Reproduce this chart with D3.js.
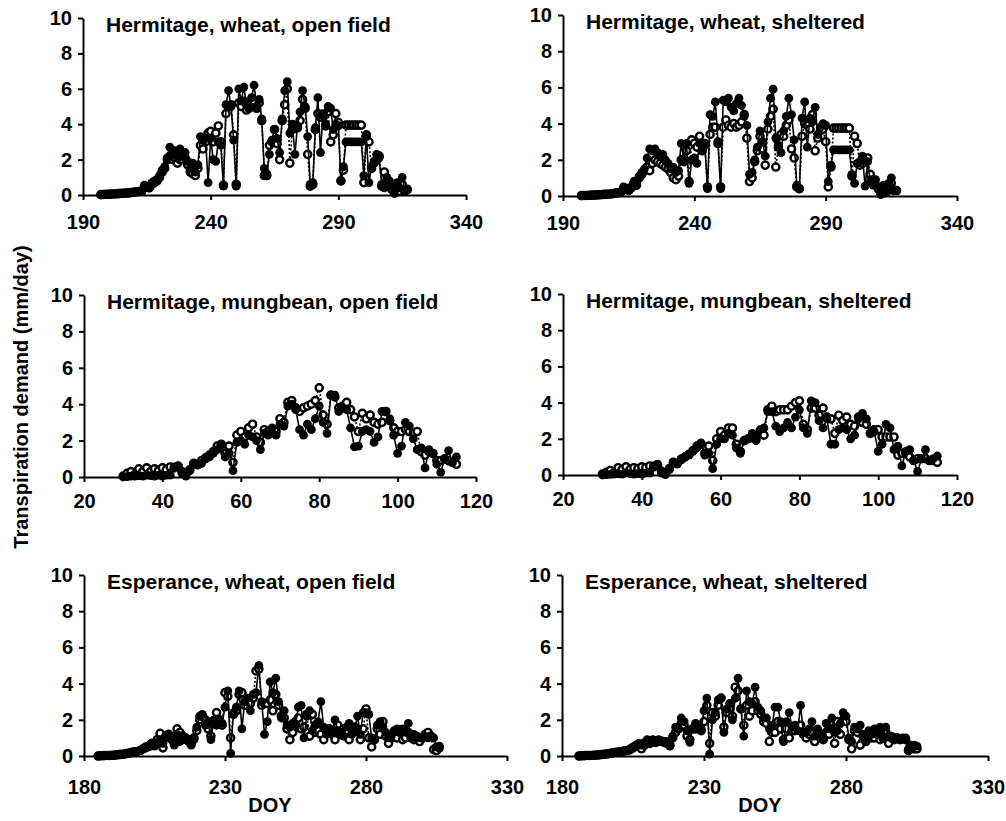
<!DOCTYPE html>
<html>
<head>
<meta charset="utf-8">
<script src="https://cdn.jsdelivr.net/npm/d3@7"></script>
<style>
  body { margin: 0; background: #fff; }
  text { font-family: "Liberation Sans", Arial, sans-serif; font-weight: bold; fill: #000; }
</style>
</head>
<body>
<svg id="chart" width="1006" height="821"></svg>
<script>

// tick labels
var yTicks = [0, 2, 4, 6, 8, 10];
var herWheatTicks = [190, 240, 290, 340];
var mungTicks = [20, 40, 60, 80, 100, 120];
var espWheatTicks = [180, 230, 280, 330];

var panelTitles = [
  "Hermitage, wheat, open field",
  "Hermitage, wheat, sheltered",
  "Hermitage, mungbean, open field",
  "Hermitage, mungbean, sheltered",
  "Esperance, wheat, open field",
  "Esperance, wheat, sheltered"
];

// first DOY of each daily record
var herWheatStart = 197;
var mungStart = 30;
var espOpenStart = 185;
var espShelStart = 186;

// Hermitage wheat, open field (solid = filled dots, dotted = open dots)
var hwOpenFilled = [0.02,0.03,0.03,0.05,0.05,0.06,0.07,0.08,0.08,0.1,
  0.1,0.12,0.15,0.15,0.18,0.2,0.22,
  0.55,0.5,0.45,0.7,0.8,0.9,1.1,1.4,1.6,2.1,
  2.7,2.3,2.5,2.1,2.6,2.2,2.4,1.9,1.5,1.8,
  1.3,1.7,3.3,3.1,3.2,0.7,3.2,2.0,1.9,3.0,
  2.8,0.5,5.1,5.9,5.0,3.1,0.5,6.0,5.3,6.1,
  5.1,4.9,5.5,6.2,5.0,5.4,4.3,1.5,1.2,2.3,
  3.1,3.7,3.2,2.4,4.3,5.9,6.4,3.5,4.0,2.3,
  3.9,4.7,5.9,5.0,3.3,0.6,0.7,3.8,5.5,2.4,
  4.6,4.0,5.0,4.9,3.7,4.0,3.9,0.8,1.6,3.0,
  3.0,3.0,3.0,3.0,3.0,3.0,1.1,3.3,0.7,1.6,
  1.9,2.3,2.1,0.6,0.4,1.0,0.8,0.5,0.2,0.7,
  0.4,1.0,0.3,0.35];
var hwOpenOpen = [0.02,0.03,0.04,0.04,0.05,0.06,0.06,0.08,0.09,0.1,
  0.11,0.12,0.14,0.16,0.18,0.2,0.22,
  0.4,0.45,0.4,0.6,0.7,0.8,1.0,1.3,1.5,2.0,
  2.2,2.0,2.1,1.8,2.0,2.0,2.1,1.7,1.3,1.2,
  1.1,1.5,2.8,2.6,3.0,3.5,3.6,3.0,3.5,3.9,
  3.0,0.55,4.6,5.0,5.1,3.4,0.6,5.2,5.0,5.3,
  4.8,4.9,5.1,5.3,4.9,5.2,4.2,1.1,1.1,2.8,
  3.0,3.7,2.9,2.0,4.2,5.1,6.0,1.8,3.7,3.9,
  3.8,4.2,5.4,4.9,2.3,0.5,0.6,3.7,4.6,4.4,
  4.5,3.9,4.7,3.0,3.4,4.6,4.1,0.8,1.4,3.95,
  3.95,3.95,3.95,3.95,3.95,3.95,0.7,3.4,3.0,1.5,
  1.8,2.0,2.2,0.5,1.3,0.7,0.5,0.3,0.1,0.5,
  0.2,0.6,0.2,0.3];

// Hermitage wheat, sheltered
var hwShelFilled = [0.02,0.03,0.03,0.04,0.05,0.06,0.06,0.07,0.08,0.1,
  0.1,0.12,0.15,0.17,0.2,0.2,
  0.5,0.45,0.35,0.5,0.8,0.7,1.1,1.3,1.5,2.1,
  2.6,2.5,2.6,2.4,2.2,2.3,2.0,1.8,1.5,1.6,
  1.3,1.4,2.9,2.0,2.9,0.7,2.0,2.1,1.8,2.9,
  2.6,2.8,0.4,4.5,4.4,5.2,3.0,0.4,5.3,5.2,
  5.4,4.9,4.7,5.1,5.4,5.0,4.4,3.9,1.2,1.3,
  2.0,2.7,3.6,3.0,2.2,4.1,5.4,5.9,3.2,2.8,
  2.4,3.6,4.4,5.4,4.5,3.1,0.6,0.4,4.3,5.2,
  2.7,4.3,4.1,4.9,3.4,3.8,4.0,3.9,0.8,1.7,
  2.55,2.55,2.55,2.55,2.55,2.55,2.55,1.2,0.7,1.8,
  1.9,2.2,0.55,1.9,0.8,0.6,0.9,0.5,0.1,0.6,
  0.2,0.7,1.0,0.3,0.3];
var hwShelOpen = [0.02,0.03,0.03,0.04,0.05,0.05,0.06,0.07,0.08,0.09,
  0.1,0.11,0.13,0.15,0.18,0.2,
  0.4,0.4,0.3,0.45,0.7,0.6,1.0,1.2,1.4,1.6,
  1.4,1.8,2.0,1.9,1.8,1.7,1.6,1.5,1.3,1.0,
  0.9,1.1,2.0,1.9,2.5,0.8,3.1,2.9,2.7,3.3,
  2.5,2.9,0.5,3.4,3.8,3.8,2.9,0.5,3.8,4.2,
  3.9,3.8,4.0,3.8,3.9,4.1,4.5,3.2,0.8,1.0,
  1.9,2.5,3.3,2.6,1.7,3.7,4.4,4.8,1.6,2.7,
  3.4,3.3,3.9,4.2,2.6,2.1,0.5,0.4,3.3,4.0,
  3.9,3.7,4.5,2.5,3.2,3.6,3.7,3.0,0.5,1.6,
  3.75,3.75,3.75,3.75,3.75,3.75,3.75,1.1,3.3,2.9,
  1.7,1.8,2.0,2.1,1.2,0.9,0.6,0.4,0.1,0.5,
  0.2,0.6,0.7,0.3,0.3];

// Hermitage mungbean, open field
var hmOpenFilled = [0.0,0.02,0.05,0.05,0.08,0.05,0.1,0.08,0.05,0.1,
  0.05,0.1,0.1,0.55,0.6,0.2,0.05,0.35,0.7,0.65,
  0.75,1.0,1.1,1.3,1.5,1.7,1.1,1.3,0.35,1.9,
  2.0,1.8,2.3,2.2,2.0,1.5,2.4,2.3,2.7,2.3,
  2.9,2.8,3.9,4.0,3.7,2.6,2.3,2.9,2.6,3.2,
  3.9,3.0,2.4,4.5,4.5,3.6,3.8,3.7,2.7,1.65,
  1.7,2.5,2.6,2.5,1.9,2.2,3.6,3.6,3.2,2.3,
  1.3,1.7,3.0,2.8,2.1,1.5,1.6,0.5,1.5,1.3,
  0.7,0.25,1.0,1.45,0.8,1.1];
var hmOpenOpen = [0.05,0.2,0.3,0.15,0.45,0.3,0.5,0.3,0.45,0.35,
  0.5,0.4,0.55,0.5,0.6,0.3,0.15,0.4,0.75,0.7,
  0.9,1.05,1.2,1.4,1.7,1.8,1.3,1.7,0.8,2.3,
  2.5,2.2,2.7,2.9,2.2,1.9,2.6,2.5,2.6,2.5,
  3.2,3.0,4.1,4.2,3.8,3.6,3.8,3.9,4.0,4.2,
  4.9,3.4,2.9,4.5,4.4,3.8,3.9,4.1,3.7,3.3,
  2.5,3.5,3.2,3.4,3.0,2.9,3.0,3.6,3.1,2.7,
  2.5,2.5,2.6,2.5,2.4,2.5,1.4,1.2,1.4,1.3,
  0.9,0.9,1.0,0.9,0.8,0.7];

// Hermitage mungbean, sheltered
var hmShelFilled = [0.0,0.02,0.04,0.05,0.07,0.05,0.1,0.07,0.05,0.08,
  0.05,0.1,0.1,0.5,0.6,0.1,0.02,0.3,0.7,0.6,
  0.9,1.0,1.1,1.3,1.5,1.7,1.1,1.2,0.35,1.7,
  2.0,2.0,2.3,2.2,1.5,1.2,1.9,2.0,2.3,1.9,
  2.5,2.6,3.5,3.5,2.7,2.4,2.6,2.9,2.6,3.2,
  3.6,2.6,2.3,4.1,4.0,3.0,2.6,3.1,1.7,1.7,
  2.5,2.6,2.5,2.0,2.2,3.1,3.4,3.1,2.3,2.4,
  1.3,1.7,2.8,2.6,1.4,1.6,0.5,1.3,1.4,0.8,
  0.2,0.9,1.4,0.8,0.9,1.05];
var hmShelOpen = [0.05,0.15,0.25,0.15,0.4,0.3,0.45,0.3,0.4,0.35,
  0.45,0.4,0.5,0.45,0.55,0.2,0.1,0.35,0.7,0.65,
  0.85,1.0,1.15,1.35,1.6,1.75,1.2,1.6,0.8,2.0,
  2.4,2.2,2.6,2.6,1.7,1.3,1.9,2.0,2.1,2.0,
  2.4,2.2,3.6,3.8,3.5,3.6,3.6,3.6,3.8,4.0,
  4.1,2.8,2.5,3.7,3.7,3.3,3.7,3.2,3.1,2.3,
  3.3,3.0,3.2,2.8,2.7,3.2,2.9,2.8,2.3,2.5,
  2.5,2.1,2.1,2.1,2.1,1.1,1.2,1.2,1.0,0.8,
  0.9,0.9,0.9,0.8,0.8,0.7];

// Esperance wheat, open field
var ewOpenFilled = [0.0,0.01,0.02,0.02,0.03,0.04,0.05,0.06,0.08,0.1,
  0.12,0.15,0.2,0.22,0.25,0.3,0.4,0.45,0.5,0.6,
  0.55,0.75,0.9,0.7,1.0,1.1,0.9,0.6,1.2,0.8,
  1.0,0.9,0.8,0.6,0.9,1.6,2.2,2.3,1.7,1.9,
  0.9,2.0,1.7,1.9,1.8,2.7,3.6,0.15,2.4,2.7,
  3.6,1.5,3.0,3.2,2.5,3.4,3.5,5.0,3.0,1.2,
  1.9,4.1,3.5,4.3,3.0,2.1,2.5,1.7,1.6,1.8,
  1.7,2.7,2.8,1.0,2.2,2.5,1.4,1.7,1.9,3.0,
  1.6,1.2,1.5,1.3,2.0,1.4,1.3,1.1,1.6,1.8,
  1.2,1.5,2.2,1.2,2.4,2.4,2.3,1.0,0.9,1.7,
  1.9,1.6,1.3,1.0,1.1,1.4,1.5,1.3,1.5,1.3,
  1.8,1.0,1.2,1.1,1.0,1.0,1.1,1.0,1.1,1.0,
  0.5,0.55];
var ewOpenOpen = [0.0,0.01,0.02,0.03,0.03,0.04,0.05,0.07,0.09,0.1,
  0.13,0.16,0.2,0.23,0.25,0.3,0.4,0.5,0.55,0.7,
  0.6,0.9,1.25,0.45,1.1,1.2,1.0,0.7,1.5,1.3,
  1.1,1.0,0.9,0.7,1.0,1.4,2.0,2.2,2.0,1.5,
  1.1,1.9,2.4,2.0,1.7,3.5,3.3,1.0,2.3,2.5,
  3.4,3.5,2.8,3.0,2.9,3.2,4.7,4.8,2.8,2.9,
  2.9,3.1,2.5,3.4,2.8,2.2,2.1,1.5,0.9,1.3,
  1.9,2.1,1.5,1.6,2.3,1.1,2.3,1.3,1.4,1.2,
  0.9,1.3,1.5,1.2,0.9,1.7,1.2,1.5,1.4,0.9,
  1.5,1.6,1.4,0.9,1.5,2.6,1.0,0.5,0.9,1.5,
  1.2,1.9,1.1,0.7,1.0,1.1,1.0,1.3,0.9,1.0,
  1.3,1.0,0.9,1.0,0.8,1.0,1.2,1.3,1.1,0.35,
  0.3,0.45];

// Esperance wheat, sheltered
var ewShelFilled = [0.0,0.01,0.02,0.02,0.03,0.04,0.05,0.06,0.08,0.1,
  0.12,0.15,0.18,0.2,0.22,0.25,0.3,0.3,0.4,0.5,
  0.6,0.7,0.6,0.75,0.9,0.8,0.9,0.8,0.9,0.85,
  0.8,0.8,0.55,1.1,1.6,1.5,2.1,1.9,1.4,0.75,
  1.5,1.8,1.6,1.5,2.5,3.2,0.1,2.0,2.4,3.1,
  3.2,1.3,2.6,2.9,2.0,3.2,4.3,2.6,1.1,3.6,
  3.0,2.9,3.8,2.7,2.5,2.1,2.1,1.5,1.7,2.7,
  2.7,1.9,0.8,1.9,2.4,1.6,1.7,1.4,2.8,1.3,
  1.3,1.5,1.9,1.1,1.5,1.2,1.0,1.8,1.5,2.1,
  1.3,1.4,1.8,2.4,2.2,1.0,0.8,1.6,1.5,1.7,
  1.2,0.9,1.4,1.2,1.5,1.3,1.6,1.1,1.6,1.1,
  1.1,1.0,1.0,0.95,1.0,1.0,0.4,0.6,0.6,0.55];
var ewShelOpen = [0.0,0.01,0.02,0.03,0.03,0.04,0.05,0.06,0.08,0.1,
  0.12,0.15,0.17,0.2,0.22,0.25,0.28,0.3,0.35,0.45,
  0.55,0.6,0.4,0.6,0.8,0.7,0.85,0.75,0.85,0.8,
  0.75,0.7,0.6,1.0,1.3,1.5,1.8,1.7,1.1,0.9,
  1.5,1.5,1.6,1.4,1.9,2.8,0.7,2.4,2.2,2.8,
  3.2,1.6,2.4,2.6,2.2,3.8,3.6,2.6,1.7,2.8,
  2.2,2.5,3.0,2.5,2.3,1.9,1.8,0.8,1.3,1.3,
  1.9,1.5,0.9,1.5,1.0,1.4,1.4,1.5,1.7,1.2,
  1.0,1.2,1.3,0.8,1.2,1.0,0.9,1.3,1.2,1.5,
  0.7,1.9,1.2,2.0,1.9,0.9,0.4,1.4,1.3,0.6,
  1.1,0.8,1.1,1.0,1.0,1.2,0.9,1.0,1.3,0.7,
  1.0,0.9,1.0,0.9,0.95,0.9,0.3,0.45,0.4,0.4];

// panel table: data + where each panel sits on the page
var panels = [
  {title: panelTitles[0], start: herWheatStart, filled: hwOpenFilled, open: hwOpenOpen,
   ticks: herWheatTicks, x0: 83, x1: 466, y0: 195, y1: 18, pad: 15},
  {title: panelTitles[1], start: herWheatStart, filled: hwShelFilled, open: hwShelOpen,
   ticks: herWheatTicks, x0: 563, x1: 957, y0: 196, y1: 15, pad: 15},
  {title: panelTitles[2], start: mungStart, filled: hmOpenFilled, open: hmOpenOpen,
   ticks: mungTicks, x0: 84, x1: 476, y0: 477, y1: 295, pad: 12},
  {title: panelTitles[3], start: mungStart, filled: hmShelFilled, open: hmShelOpen,
   ticks: mungTicks, x0: 563, x1: 957, y0: 475, y1: 294, pad: 12},
  {title: panelTitles[4], start: espOpenStart, filled: ewOpenFilled, open: ewOpenOpen,
   ticks: espWheatTicks, x0: 84, x1: 507, y0: 756, y1: 575, pad: 19},
  {title: panelTitles[5], start: espShelStart, filled: ewShelFilled, open: ewShelOpen,
   ticks: espWheatTicks, x0: 562, x1: 988, y0: 756, y1: 575, pad: 19}
];

var svg = d3.select("#chart");

function draw_panel(p) {
  var x = d3.scaleLinear()
        .domain([p.ticks[0], p.ticks[p.ticks.length - 1]])
        .range([p.x0, p.x1]);
  var y = d3.scaleLinear().domain([0, 10]).range([p.y0, p.y1]);

  var days = d3.range(p.start, p.start + p.filled.length);
  var filledPts = days.map(function(d, i) { return [d, p.filled[i]]; });
  var openPts = days.map(function(d, i) { return [d, p.open[i]]; });

  var g = svg.append("g");

  var line = d3.line()
    .x(function(d) { return x(d[0]); })
    .y(function(d) { return y(d[1]); });

  // open series: dotted line, hollow dots
  g.append("path")
    .attr("d", line(openPts))
    .attr("fill", "none")
    .attr("stroke", "#000")
    .attr("stroke-width", 1.6)
    .attr("stroke-dasharray", "2,2");

  g.selectAll("circle.open")
    .data(openPts)
    .enter()
    .append("circle")
      .attr("class", "open")
      .attr("cx", function(d) { return x(d[0]); })
      .attr("cy", function(d) { return y(d[1]); })
      .attr("r", 3.6)
      .attr("fill", "#fff")
      .attr("stroke", "#000")
      .attr("stroke-width", 2.4);

  // filled series: solid line, black dots
  g.append("path")
    .attr("d", line(filledPts))
    .attr("fill", "none")
    .attr("stroke", "#000")
    .attr("stroke-width", 1.6);

  g.selectAll("circle.filled")
    .data(filledPts)
    .enter()
    .append("circle")
      .attr("class", "filled")
      .attr("cx", function(d) { return x(d[0]); })
      .attr("cy", function(d) { return y(d[1]); })
      .attr("r", 4.4)
      .attr("fill", "#000");

  // axes
  var yAxis = g.append("g")
    .attr("transform", "translate(" + p.x0 + ",0)")
    .call(d3.axisLeft(y).tickValues(yTicks).tickSize(5).tickSizeOuter(0).tickPadding(6));
  var xAxis = g.append("g")
    .attr("transform", "translate(0," + p.y0 + ")")
    .call(d3.axisBottom(x).tickValues(p.ticks).tickSize(5).tickSizeOuter(0).tickPadding(p.pad));

  [yAxis, xAxis].forEach(function(a) {
    a.attr("font-size", null).attr("font-family", null);
    a.select(".domain").attr("stroke-width", 2);
    a.selectAll(".tick line").attr("stroke-width", 2);
    a.selectAll("text")
      .style("font-family", "'Liberation Sans', Arial, sans-serif")
      .style("font-weight", "bold")
      .style("font-size", "20px")
      .attr("fill", "#000");
  });

  g.append("text")
    .attr("x", p.x0 + 23)
    .attr("y", p.y1 + 14)
    .style("font-size", "21px")
    .text(p.title);
}

panels.forEach(draw_panel);

svg.append("text")
  .attr("transform", "translate(28,397) rotate(-90)")
  .attr("text-anchor", "middle")
  .style("font-size", "20px")
  .text("Transpiration demand (mm/day)");

svg.append("text")
  .attr("x", 270).attr("y", 812)
  .attr("text-anchor", "middle")
  .style("font-size", "20px")
  .text("DOY");

svg.append("text")
  .attr("x", 760).attr("y", 812)
  .attr("text-anchor", "middle")
  .style("font-size", "20px")
  .text("DOY");

</script>
</body>
</html>
